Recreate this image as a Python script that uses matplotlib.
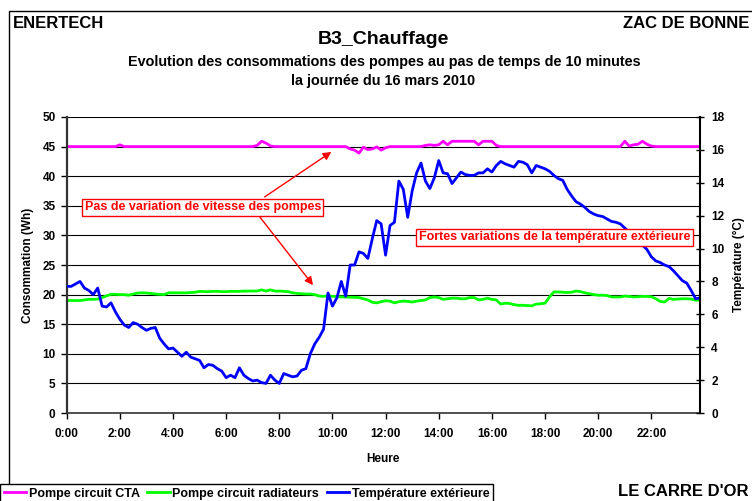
import matplotlib.pyplot as plt
from matplotlib.patches import Rectangle

plt.rcParams['font.family'] = ['Liberation Sans', 'DejaVu Sans']
plt.rcParams['font.weight'] = 'bold'

# 10-minute steps over the day (hours)
heures = [i / 6 for i in range(144)]

# Pompe circuit CTA (Wh)
cta = [45.0] * 12 + [45.3] + [45.0] * 30 + [45.2, 45.9, 45.6, 45.1] + [45.0] * 16 + [
    45.0, 44.6, 44.4, 43.9, 44.9, 44.5, 44.6, 44.95, 44.4, 44.8] + [45.0] * 7 + [
    45.0, 45.2, 45.3, 45.2, 45.3, 45.9, 45.3, 45.9, 45.9, 45.9, 45.9, 45.9,
    45.9, 45.3, 45.9, 45.9, 45.9, 45.2] + [45.0] * 28 + [
    45.9, 45.1, 45.3, 45.4, 45.9, 45.4, 45.1] + [45.0] * 11

# Pompe circuit radiateurs (Wh)
radiateurs = [
    19.0, 19.0, 19.0, 19.0, 19.1, 19.2, 19.2, 19.25, 19.5, 19.8, 20.05, 20.05,
    20.0, 20.0, 19.9, 20.1, 20.27, 20.3, 20.27, 20.2, 20.1, 20.05, 20.0, 20.3,
    20.3, 20.3, 20.3, 20.3, 20.35, 20.4, 20.55, 20.5, 20.5, 20.55, 20.55, 20.5,
    20.5, 20.55, 20.55, 20.55, 20.6, 20.6, 20.6, 20.6, 20.8, 20.6, 20.8, 20.6,
    20.6, 20.55, 20.5, 20.3, 20.2, 20.15, 20.1, 20.1, 20.0, 19.75, 19.7, 19.8,
    19.7, 19.7, 19.6, 19.6, 19.55, 19.55, 19.5, 19.3, 19.1, 18.7, 18.6, 18.8,
    18.95, 18.9, 18.6, 18.8, 18.9, 18.85, 18.75, 18.9, 19.0, 19.1, 19.5, 19.6,
    19.5, 19.2, 19.3, 19.4, 19.4, 19.3, 19.3, 19.5, 19.5, 19.1, 19.2, 19.4,
    19.2, 19.1, 18.4, 18.55, 18.5, 18.3, 18.2, 18.2, 18.15, 18.1, 18.4, 18.45,
    18.55, 19.6, 20.45, 20.45, 20.4, 20.35, 20.4, 20.6, 20.5, 20.3, 20.15, 20.0,
    19.9, 19.9, 19.85, 19.6, 19.6, 19.6, 19.75, 19.7, 19.6, 19.65, 19.7, 19.7,
    19.65, 19.3, 18.85, 18.75, 19.35, 19.2, 19.25, 19.3, 19.3, 19.25, 19.05, 19.1,
]

# Température extérieure (°C)
temperature = [
    7.7, 7.7, 7.85, 8.0, 7.6, 7.45, 7.2, 7.6, 6.5, 6.45, 6.7, 6.15,
    5.7, 5.35, 5.2, 5.5, 5.4, 5.2, 5.03, 5.15, 5.2, 4.55, 4.2, 3.9,
    3.95, 3.7, 3.45, 3.7, 3.4, 3.3, 3.2, 2.75, 2.95, 2.9, 2.7, 2.55,
    2.15, 2.3, 2.15, 2.75, 2.3, 2.1, 1.95, 2.0, 1.85, 1.8, 2.3, 2.0,
    1.8, 2.4, 2.3, 2.2, 2.25, 2.6, 2.7, 3.6, 4.2, 4.6, 5.1, 7.3,
    6.5, 7.0, 8.0, 7.1, 9.0, 9.0, 9.8, 9.7, 9.4, 10.6, 11.7, 11.5,
    9.6, 11.4, 11.6, 14.1, 13.6, 11.9, 13.5, 14.6, 15.2, 14.1, 13.65, 14.3,
    15.35, 14.6, 14.55, 13.95, 14.3, 14.65, 14.5, 14.45, 14.45, 14.6, 14.6, 14.85,
    14.65, 15.05, 15.3, 15.15, 15.05, 14.95, 15.3, 15.25, 15.1, 14.6, 15.05, 14.95,
    14.85, 14.7, 14.45, 14.25, 14.15, 13.6, 13.2, 12.85, 12.7, 12.5, 12.25, 12.1,
    12.0, 11.95, 11.8, 11.65, 11.6, 11.5, 11.25, 11.0, 10.8, 10.5, 10.2, 9.95,
    9.5, 9.25, 9.15, 9.0, 8.9, 8.65, 8.35, 8.05, 7.9, 7.45, 6.95, 7.0,
]

xticks = list(range(0, 24, 2))
xlabels = ['%d:00' % h for h in xticks]

fig = plt.figure(figsize=(7.52, 5.01), dpi=100)
ax = fig.add_axes([0.0887, 0.1756, 0.8422, 0.5909])
ax2 = ax.twinx()

# outer frame of the chart
fig.patches.append(Rectangle((9 / 752, -0.05), 1.0, 1.05 - 11 / 501, transform=fig.transFigure,
                             fill=False, edgecolor='black', linewidth=1))

l1, = ax.plot(heures, cta, color='#FF00FF', lw=2, label='Pompe circuit CTA', solid_joinstyle='round')
l2, = ax.plot(heures, radiateurs, color='#00FF00', lw=2, label='Pompe circuit radiateurs', solid_joinstyle='round')
l3, = ax2.plot(heures, temperature, color='#0000FF', lw=2, label='Température extérieure', solid_joinstyle='round')

ax.set_xlim(0, heures[-1])
ax.set_ylim(0, 50)
ax2.set_ylim(0, 18)
ax.set_yticks(range(0, 51, 5))
ax2.set_yticks(range(0, 19, 2))
ax.set_xticks(xticks)
ax.set_xticklabels(xlabels)

ax.yaxis.grid(True, color='black', lw=0.8)
ax.set_axisbelow(True)

for s in ['top', 'right']:
    ax.spines[s].set_visible(False)
for s in ['top', 'left', 'bottom']:
    ax2.spines[s].set_visible(False)
ax.spines['left'].set_color('#333333')
ax.spines['left'].set_linewidth(1.6)
ax.spines['bottom'].set_color('#333333')
ax.spines['bottom'].set_linewidth(1.2)
ax2.spines['right'].set_linewidth(1.5)

ax.tick_params(axis='y', direction='out', length=4, width=1, labelsize=8.5, pad=4)
ax.tick_params(axis='x', direction='out', length=4, width=1, labelsize=8.5, pad=7)
ax2.tick_params(axis='y', direction='inout', length=6, width=1, labelsize=8.5, pad=5)

ax.set_xlabel('Heure', fontsize=8.5, fontweight='bold', labelpad=9)
ax.set_ylabel('Consommation (Wh)', fontsize=8.5, fontweight='bold', labelpad=6)
ax2.set_ylabel('Température (°C)', fontsize=8.5, fontweight='bold', labelpad=6)

# titles and corner labels
fig.text(13 / 752, 1 - 23 / 501, 'ENERTECH', fontsize=12, fontweight='bold', va='center')
fig.text(749 / 752, 1 - 23 / 501, 'ZAC DE BONNE', fontsize=12, fontweight='bold', va='center', ha='right')
fig.text(383 / 752, 1 - 39 / 501, 'B3_Chauffage', fontsize=14, fontweight='bold', va='center', ha='center')
fig.text(384 / 752, 1 - 62 / 501, 'Evolution des consommations des pompes au pas de temps de 10 minutes',
         fontsize=10.4, fontweight='bold', va='center', ha='center')
fig.text(383 / 752, 1 - 81 / 501, 'la journée du 16 mars 2010',
         fontsize=10.4, fontweight='bold', va='center', ha='center')
fig.text(748 / 752, 1 - 491 / 501, "LE CARRE D'OR", fontsize=12, fontweight='bold', va='center', ha='right')

# annotations (positions in hours / Wh)
box = dict(boxstyle='square,pad=0.2', facecolor='white', edgecolor='red', lw=1)
ax2.text(5.12, 34.75, 'Pas de variation de vitesse des pompes', transform=ax.transData,
         color='red', fontsize=9, fontweight='bold', ha='center', va='center', bbox=box, zorder=5)
ax2.text(18.36, 29.7, 'Fortes variations de la température extérieure', transform=ax.transData,
         color='red', fontsize=9, fontweight='bold', ha='center', va='center', bbox=box, zorder=5)
arrow = dict(arrowstyle='-|>', color='red', lw=1, mutation_scale=12, shrinkA=0, shrinkB=0)
ax2.annotate('', xy=(9.96, 44.1), xytext=(7.45, 36.5), xycoords=ax.transData,
             textcoords=ax.transData, arrowprops=arrow, zorder=5)
ax2.annotate('', xy=(9.27, 21.6), xytext=(7.27, 33.1), xycoords=ax.transData,
             textcoords=ax.transData, arrowprops=arrow, zorder=5)

leg = fig.legend([l1, l2, l3], [l1.get_label(), l2.get_label(), l3.get_label()],
                 loc='upper left', bbox_to_anchor=(0.0, 1 - 484 / 501), ncol=3,
                 frameon=True, fancybox=False, edgecolor='black', framealpha=1,
                 borderaxespad=0, borderpad=0.3, handlelength=1.8, handletextpad=0.2,
                 columnspacing=0.6, prop={'size': 9, 'weight': 'bold'})
leg.get_frame().set_linewidth(1)

fig.savefig('out.png', dpi=100)
